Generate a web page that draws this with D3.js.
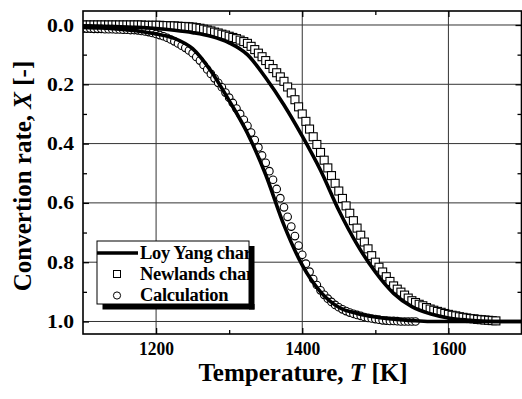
<!DOCTYPE html>
<html><head><meta charset="utf-8">
<script src="https://cdn.jsdelivr.net/npm/d3@7"></script>
<style>
body{margin:0;background:#fff}
svg{display:block}
</style>
</head><body>
<svg id="c" width="522" height="399"></svg>
<script>
// ---------- data ----------
const legendLabels = ["Loy Yang char", "Newlands char", "Calculation"];
const xTickValues = [1200, 1400, 1600];
const xMinorValues = [1300, 1500];
const yTickValues = [0.0, 0.2, 0.4, 0.6, 0.8, 1.0];
const yMinorValues = [0.1, 0.3, 0.5, 0.7, 0.9];
const xTitle = "Temperature, ";
const xTitleVar = "T";
const xTitleUnit = " [K]";
const yTitle = "Convertion rate, ";
const yTitleVar = "X";
const yTitleUnit = " [-]";

// solid line near the squares (Loy Yang char)
const lineAT = [1100,1125,1150,1175,1200,1225,1250,1275,1300,1325,1350,1375,1400,1425,1450,1475,1500,1525,1550,1575,1600,1625,1650,1675,1700];
const lineAX = [0.003,0.004,0.006,0.008,0.012,0.018,0.026,0.038,0.06,0.10,0.178,0.27,0.375,0.49,0.625,0.74,0.833,0.905,0.95,0.974,0.988,0.995,0.999,1.0,1.0];
// solid line near the circles
const lineBT = [1100,1125,1150,1175,1200,1225,1250,1275,1300,1325,1350,1375,1400,1425,1450,1475,1500,1525,1550,1575,1600,1650,1700];
const lineBX = [0.008,0.01,0.014,0.02,0.03,0.045,0.08,0.155,0.255,0.365,0.505,0.675,0.81,0.9,0.952,0.973,0.985,0.992,0.997,1.0,1.0,1.0,1.0];

// Newlands char (squares)
const squareT = [1100,1105,1110,1115,1120,1125,1130,1135,1140,1145,1150,1155,1160,1165,1170,1175,1180,1185,1190,1195,
1200,1205,1210,1215,1220,1225,1230,1235,1240,1245,1250,1255,1260,1265,1270,1275,1280,1285,1290,1295,
1300,1305,1310,1315,1320,1325,1330,1335,1340,1345,1350,1355,1360,1365,1370,1375,1380,1385,1390,1395,
1400,1405,1410,1415,1420,1425,1430,1435,1440,1445,1450,1455,1460,1465,1470,1475,1480,1485,1490,1495,
1500,1505,1510,1515,1520,1525,1530,1535,1540,1545,1550,1555,1560,1565,1570,1575,1580,1585,1590,1595,
1600,1605,1610,1615,1620,1625,1630,1635,1640,1645,1650,1655,1660,1665];
const squareX = [0,0,0,0,0,0,0,0,0,0,0,0,0,0,0,0,0,0.001,0.001,0.001,
0.001,0.001,0.002,0.002,0.003,0.003,0.004,0.005,0.005,0.006,0.007,0.009,0.011,0.014,0.017,0.02,0.024,0.027,0.031,0.034,
0.038,0.042,0.046,0.051,0.056,0.062,0.072,0.083,0.095,0.107,0.12,0.133,0.147,0.161,0.175,0.19,0.209,0.229,0.252,0.276,
0.30,0.325,0.351,0.377,0.403,0.43,0.456,0.482,0.508,0.534,0.56,0.585,0.61,0.635,0.66,0.685,0.709,0.732,0.755,0.778,
0.80,0.817,0.833,0.849,0.865,0.88,0.891,0.901,0.911,0.921,0.93,0.936,0.942,0.947,0.953,0.958,0.962,0.966,0.969,0.973,
0.976,0.979,0.981,0.984,0.986,0.988,0.990,0.991,0.993,0.994,0.995,0.996,0.997,0.998];

// Calculation (circles)
const circleT = [1100,1105,1110,1115,1120,1125,1130,1135,1140,1145,1150,1155,1160,1165,1170,1175,1180,1185,1190,1195,
1200,1205,1210,1215,1220,1225,1230,1235,1240,1245,1250,1255,1260,1265,1270,1275,1280,1285,1290,1295,
1300,1305,1310,1315,1320,1325,1330,1335,1340,1345,1350,1355,1360,1365,1370,1375,1380,1385,1390,1395,
1400,1405,1410,1415,1420,1425,1430,1435,1440,1445,1450,1455,1460,1465,1470,1475,1480,1485,1490,1495,
1500,1505,1510,1515,1520,1525,1530,1535,1540,1545,1550,1555];
const circleX = [0.012,0.012,0.012,0.013,0.013,0.013,0.014,0.014,0.014,0.015,0.015,0.016,0.016,0.017,0.017,0.018,0.02,0.022,0.024,0.027,
0.03,0.034,0.038,0.043,0.049,0.055,0.062,0.07,0.077,0.086,0.095,0.108,0.12,0.135,0.15,0.165,0.18,0.195,0.21,0.228,
0.245,0.263,0.282,0.30,0.32,0.34,0.363,0.388,0.413,0.44,0.465,0.493,0.522,0.553,0.584,0.615,0.647,0.68,0.712,0.744,
0.775,0.805,0.832,0.857,0.877,0.895,0.91,0.923,0.934,0.944,0.952,0.959,0.965,0.97,0.974,0.978,0.981,0.985,0.988,0.99,
0.992,0.994,0.996,0.997,0.998,0.998,0.999,1.0,1.0,1.0,1.0,1.0];

// ---------- chart ----------
const FONT = '"Liberation Serif", "Times New Roman", Times, serif';
const svg = d3.select("#c");
const pL = 83, pR = 521.5, pT = 11, pB = 334;
const x = d3.scaleLinear().domain([1100, 1700]).range([pL, pR]);
const y = d3.scaleLinear().domain([-0.0472, 1.0422]).range([pT, pB]);

const defs = svg.append("defs");
defs.append("clipPath").attr("id","plotclip")
  .append("rect").attr("x", pL).attr("y", pT).attr("width", pR-pL).attr("height", pB-pT);
defs.append("clipPath").attr("id", "lgclip").append("rect")
  .attr("x", 97).attr("y", 230).attr("width", 152).attr("height", 80);

// grid
const grid = svg.append("g").attr("stroke", "#333").attr("stroke-width", 1);
grid.selectAll("line.v").data(xTickValues).join("line").attr("class","v")
  .attr("x1", d => x(d)).attr("x2", d => x(d)).attr("y1", pT).attr("y2", pB);
grid.selectAll("line.h").data(yTickValues).join("line").attr("class","h")
  .attr("x1", pL).attr("x2", pR).attr("y1", d => y(d)).attr("y2", d => y(d));

// axes (ticks inward)
const fmtY = d3.format(".1f");
const axB = svg.append("g").attr("transform", `translate(0,${pB})`)
  .call(d3.axisBottom(x).tickValues(xTickValues).tickSize(-6).tickPadding(8).tickFormat(d3.format("d")));
svg.append("g").attr("transform", `translate(0,${pT})`)
  .call(d3.axisTop(x).tickValues(xTickValues).tickSize(-6).tickFormat(""));
const axL = svg.append("g").attr("transform", `translate(${pL},0)`)
  .call(d3.axisLeft(y).tickValues(yTickValues).tickSize(-6).tickPadding(9).tickFormat(fmtY));
svg.append("g").attr("transform", `translate(${pR},0)`)
  .call(d3.axisRight(y).tickValues(yTickValues).tickSize(-6).tickFormat(""));
svg.append("g").attr("transform", `translate(0,${pB})`)
  .call(d3.axisBottom(x).tickValues(xMinorValues).tickSize(-4).tickFormat(""));
svg.append("g").attr("transform", `translate(0,${pT})`)
  .call(d3.axisTop(x).tickValues(xMinorValues).tickSize(-4).tickFormat(""));
svg.append("g").attr("transform", `translate(${pL},0)`)
  .call(d3.axisLeft(y).tickValues(yMinorValues).tickSize(-4).tickFormat(""));
svg.append("g").attr("transform", `translate(${pR},0)`)
  .call(d3.axisRight(y).tickValues(yMinorValues).tickSize(-4).tickFormat(""));
svg.selectAll(".domain").remove();
svg.selectAll(".tick line").attr("stroke", "#000").attr("stroke-width", 1.3);
axB.selectAll("text").style("font-family", FONT).style("font-weight", "bold").style("font-size", "19px")
  .attr("fill", "#000").attr("textLength", 35).attr("lengthAdjust", "spacingAndGlyphs");
axL.selectAll("text").style("font-family", FONT).style("font-weight", "bold").style("font-size", "19px")
  .attr("fill", "#000").attr("textLength", 27).attr("lengthAdjust", "spacingAndGlyphs");

// markers
const plot = svg.append("g").attr("clip-path", "url(#plotclip)");
const sq = 8;
plot.append("g").selectAll("rect").data(squareT.map((t, i) => [t, squareX[i]])).join("rect")
  .attr("x", d => x(d[0]) - sq/2).attr("y", d => y(d[1]) - sq/2)
  .attr("width", sq).attr("height", sq)
  .attr("fill", "#fff").attr("stroke", "#000").attr("stroke-width", 1.1);
plot.append("g").selectAll("circle").data(circleT.map((t, i) => [t, circleX[i]])).join("circle")
  .attr("cx", d => x(d[0])).attr("cy", d => y(d[1])).attr("r", 3.8)
  .attr("fill", "#fff").attr("stroke", "#000").attr("stroke-width", 1.1);

// lines
const lineGen = d3.line().x(d => x(d[0])).y(d => y(d[1])).curve(d3.curveMonotoneX);
plot.append("path").datum(lineAT.map((t, i) => [t, lineAX[i]])).attr("d", lineGen)
  .attr("fill", "none").attr("stroke", "#000").attr("stroke-width", 3.6);
plot.append("path").datum(lineBT.map((t, i) => [t, lineBX[i]])).attr("d", lineGen)
  .attr("fill", "none").attr("stroke", "#000").attr("stroke-width", 3.6);

// frame
svg.append("rect").attr("x", pL).attr("y", pT).attr("width", pR-pL).attr("height", pB-pT)
  .attr("fill", "none").attr("stroke", "#000").attr("stroke-width", 1.6);

// legend
const lg = svg.append("g");
lg.append("rect").attr("x", 97).attr("y", 241).attr("width", 152).attr("height", 63)
  .attr("fill", "#fff").attr("stroke", "#000").attr("stroke-width", 1);
const lgText = lg.append("g").attr("clip-path", "url(#lgclip)");
const rowsY = [258.5, 280, 301];
lgText.selectAll("text").data(legendLabels).join("text")
  .attr("x", 140).attr("y", (d, i) => rowsY[i]).attr("fill", "#000")
  .style("font-family", FONT).style("font-weight", "bold").style("font-size", "18.5px")
  .style("letter-spacing", "-0.3px").text(d => d);
lg.append("line").attr("x1", 97).attr("x2", 138).attr("y1", 253).attr("y2", 253)
  .attr("stroke", "#000").attr("stroke-width", 3.6);
lg.append("rect").attr("x", 117 - 3.5).attr("y", 274 - 3.5).attr("width", 7).attr("height", 7)
  .attr("fill", "#fff").attr("stroke", "#000").attr("stroke-width", 1);
lg.append("circle").attr("cx", 117).attr("cy", 295.5).attr("r", 3.6)
  .attr("fill", "#fff").attr("stroke", "#000").attr("stroke-width", 1);
// shadow
lg.append("rect").attr("x", 249).attr("y", 246).attr("width", 5.5).attr("height", 63.5).attr("fill", "#000");
lg.append("rect").attr("x", 102.5).attr("y", 304).attr("width", 152).attr("height", 5.5).attr("fill", "#000");

// axis titles
const xt = svg.append("text").attr("x", 303).attr("y", 380.5).attr("text-anchor", "middle").attr("fill", "#000")
  .style("font-family", FONT).style("font-weight", "bold").style("font-size", "25px");
xt.append("tspan").text(xTitle);
xt.append("tspan").style("font-style", "italic").text(xTitleVar);
xt.append("tspan").text(xTitleUnit);
const yt = svg.append("text").attr("transform", "translate(31,176) rotate(-90)").attr("text-anchor", "middle").attr("fill", "#000")
  .style("font-family", FONT).style("font-weight", "bold").style("font-size", "25px");
yt.append("tspan").text(yTitle);
yt.append("tspan").style("font-style", "italic").text(yTitleVar);
yt.append("tspan").text(yTitleUnit);
</script>
</body></html>
